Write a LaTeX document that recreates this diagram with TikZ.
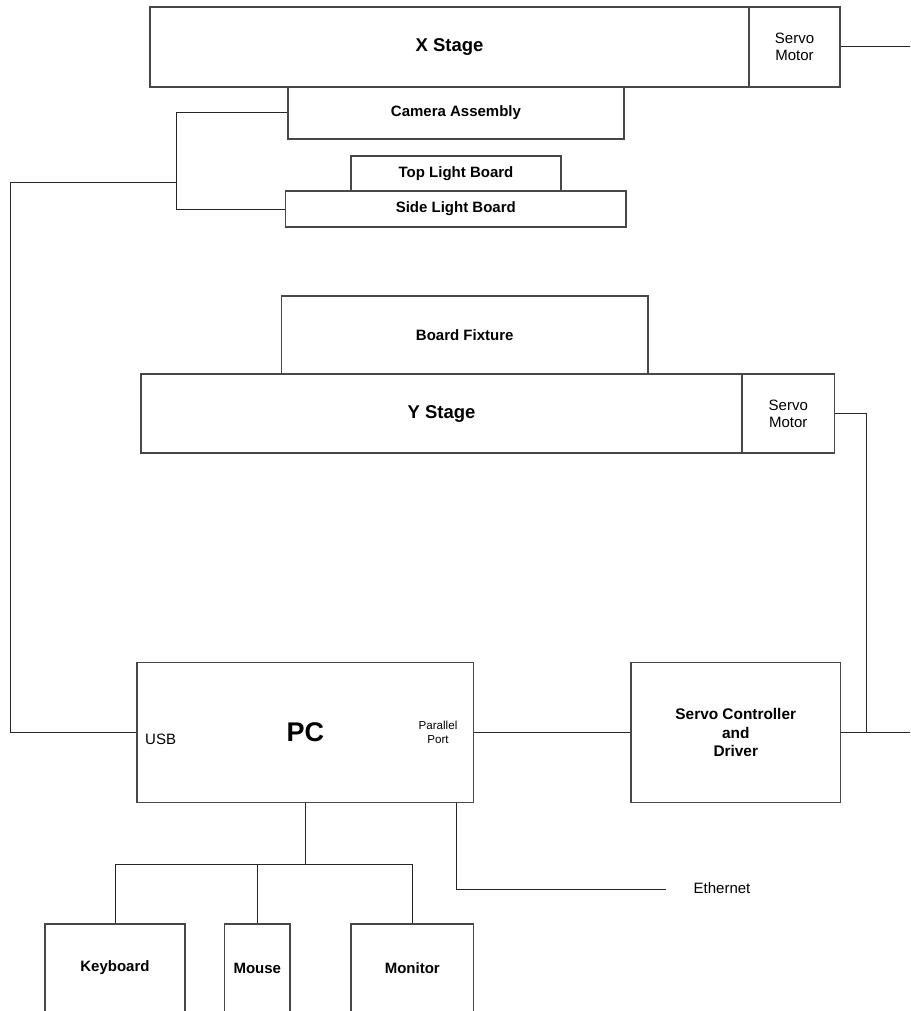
\documentclass[tikz,border=0pt]{standalone}
\usepackage{fontspec}
\setmainfont{Liberation Sans}
\begin{document}
\begin{tikzpicture}[x=1pt,y=-1pt,
  box/.style={draw=black!72,line width=1.1pt,inner sep=0pt,align=center,fill=white},
  bl/.style={font=\fontsize{15}{18}\selectfont\bfseries},
  big/.style={font=\fontsize{18.5}{22}\selectfont\bfseries},
  rg/.style={font=\fontsize{15}{17}\selectfont},
  wire/.style={draw=black!85,line width=1pt}]
\useasboundingbox (0,0) rectangle (910,1011);
\clip (0,0) rectangle (910,1011);
% top assembly
\node[box,big,minimum width=599,minimum height=80] (xs) at (449.5,47) {X Stage};
\node[box,rg,minimum width=91,minimum height=80] (xserv) at (794.5,47) {Servo\\Motor};
\node[box,bl,minimum width=336,minimum height=52] (cam) at (456,113) {Camera Assembly};
\node[box,bl,minimum width=210,minimum height=35] (top) at (456,173.5) {Top Light Board};
\node[box,bl,minimum width=340.5,minimum height=36] (side) at (455.75,209) {Side Light Board};
% y stage
\node[box,bl,minimum width=366.5,minimum height=78] (fix) at (464.75,335) {Board Fixture};
\node[box,big,minimum width=601,minimum height=79] (ys) at (441.5,413.5) {Y Stage};
\node[box,rg,minimum width=92.5,minimum height=79] (yserv) at (788.25,413.5) {Servo\\Motor};
% pc and controller
\node[box,font=\fontsize{27}{30}\selectfont\bfseries,minimum width=336.6,minimum height=139.6] (pc) at (305.3,732.5) {PC};
\node[rg,anchor=west,inner sep=0pt] (usb) at (145,739) {USB};
\node[font=\fontsize{11.6}{14}\selectfont,align=center,inner sep=0pt] (par) at (438,732) {Parallel\\Port};
\node[box,font=\fontsize{15.4}{18.3}\selectfont\bfseries,minimum width=209.5,minimum height=139.6] (ctl) at (735.75,732.5) {Servo Controller\\and\\Driver};
% peripherals
\node[box,bl,minimum width=140,minimum height=88] (kb) at (115,968) {Keyboard};
\node[box,bl,minimum width=65.4,minimum height=88] (ms) at (257.3,968) {Mouse};
\node[box,bl,minimum width=122.6,minimum height=88] (mon) at (412.3,968) {Monitor};
\node[rg,anchor=west,inner sep=0pt] (eth) at (693.5,888) {Ethernet};
% coordinates
\coordinate (xend) at (910,47);
\coordinate (brk) at (176,113);
\coordinate (j1) at (176,183);
\coordinate (lft) at (10,183);
\coordinate (yv) at (866,413.5);
\coordinate (cend) at (910,732.5);
\coordinate (tree) at (305.3,864);
\coordinate (ethend) at (666,889);
% connectors
\draw[wire] (xserv.east) -- (xend);
\draw[wire] (cam.west) -- (brk) |- (side.west);
\draw[wire] (j1) -- (lft) |- (pc.west);
\draw[wire] (pc.east) -- (ctl.west);
\draw[wire] (ctl.east) -- (cend);
\draw[wire] (yserv.east) -- (yv) -- (yv |- cend);
\draw[wire] (pc.south) -- (tree);
\draw[wire] (kb.north) -- (kb.north |- tree) -- (mon.north |- tree) -- (mon.north);
\draw[wire] (ms.north) -- (ms.north |- tree);
\draw[wire] ([xshift=-17.6pt]pc.south east) |- (ethend);
\end{tikzpicture}
\end{document}
